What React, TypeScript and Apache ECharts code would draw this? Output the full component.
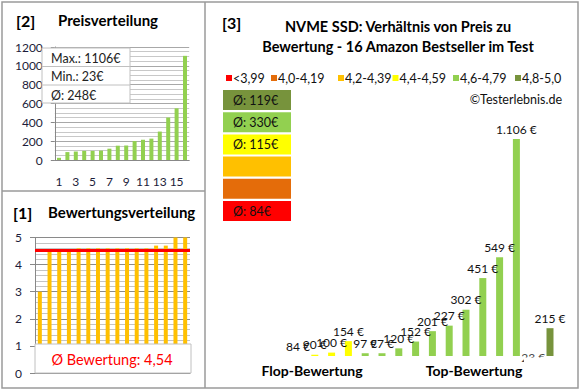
import React, { useEffect, useRef } from "react";
import * as echarts from "echarts";

// ---- data ----
const productNumbers = ["1", "2", "3", "4", "5", "6", "7", "8", "9", "10", "11", "12", "13", "14", "15", "16"];
const sortedPrices = [23, 84, 90, 97, 97, 100, 120, 152, 154, 201, 215, 227, 302, 451, 549, 1106];
const ratings = [3.0, 4.5, 4.5, 4.5, 4.6, 4.6, 4.6, 4.6, 4.6, 4.6, 4.6, 4.6, 4.7, 4.7, 5.0, 5.0];
const rankedPrices = [84, 90, 100, 154, 97, 97, 120, 152, 201, 227, 302, 451, 549, 1106, 23, 215];
const rankedGroups = [0, 3, 3, 3, 4, 4, 4, 4, 4, 4, 4, 4, 4, 4, 5, 5];
const groupLabels = ["<3,99", "4,0-4,19", "4,2-4,39", "4,4-4,59", "4,6-4,79", "4,8-5,0"];
const groupColors = ["#ff0000", "#e46c0a", "#ffc000", "#ffff00", "#92d050", "#77933c"];
const priceAxisTicks = { min: 0, max: 1200, interval: 200 };
const ratingAxisTicks = { min: 0, max: 5, interval: 1 };
const mainAxisRange = { min: 84, max: 1106 };

const FONT = "Lato, 'Open Sans', sans-serif";
const AXIS_TXT = "#1c1c3a";
const BORDER = "#9a9a9a";

const fmtEuro = (v: number) => {
  const s = v >= 1000 ? Math.floor(v / 1000) + "." + String(v % 1000).padStart(3, "0") : String(v);
  return s + " €";
};

export default function App() {
  const ref = useRef<HTMLDivElement>(null);
  useEffect(() => {
    if (!ref.current) return;
    const chart = echarts.init(ref.current, null, { renderer: "svg" });

    const maxP = Math.max(...sortedPrices);
    const minP = Math.min(...sortedPrices);
    const avgP = Math.round(sortedPrices.reduce((a, b) => a + b, 0) / sortedPrices.length);
    const avgR = ratings.reduce((a, b) => a + b, 0) / ratings.length;
    const avgRText = avgR.toFixed(2).replace(".", ",");

    const groupAvg = groupColors.map((_, g) => {
      const vals = rankedPrices.filter((_, i) => rankedGroups[i] === g);
      if (!vals.length) return "";
      return "Ø: " + Math.round(vals.reduce((a, b) => a + b, 0) / vals.length) + "€";
    });

    const txt = (x: number, y: number, text: string, o: any = {}) => ({
      type: "text",
      x,
      y,
      z: 110,
      style: {
        text,
        fill: o.fill || "#000",
        fontSize: o.fontSize || 12,
        fontWeight: o.fontWeight || "normal",
        fontFamily: FONT,
        align: o.align || "left",
        verticalAlign: "middle",
      },
    });

    const graphics: any[] = [];
    // panel borders
    graphics.push({ type: "rect", z: 100, shape: { x: 2, y: 2, width: 576, height: 386 }, style: { fill: "none", stroke: BORDER, lineWidth: 1.5 } });
    graphics.push({ type: "line", z: 100, shape: { x1: 205, y1: 2, x2: 205, y2: 388 }, style: { stroke: BORDER, lineWidth: 1.5 } });
    graphics.push({ type: "line", z: 100, shape: { x1: 2, y1: 191, x2: 205, y2: 191 }, style: { stroke: BORDER, lineWidth: 1.5 } });

    // panel 2 titles
    graphics.push(txt(16, 20, "[2]", { fontSize: 16, fontWeight: "bold" }));
    graphics.push(txt(58, 20, "Preisverteilung", { fontSize: 15, fontWeight: "bold" }));
    // stats box
    graphics.push({ type: "rect", z: 100, shape: { x: 42, y: 48, width: 88, height: 55 }, style: { fill: "#fff", stroke: "#c0c0c0", lineWidth: 1 } });
    graphics.push({ type: "line", z: 101, shape: { x1: 42, y1: 66.5, x2: 130, y2: 66.5 }, style: { stroke: "#c0c0c0", lineWidth: 1 } });
    graphics.push({ type: "line", z: 101, shape: { x1: 42, y1: 85, x2: 130, y2: 85 }, style: { stroke: "#c0c0c0", lineWidth: 1 } });
    graphics.push(txt(51, 58, "Max.: " + maxP + "€", { fontSize: 12.5, fill: "#222" }));
    graphics.push(txt(51, 76.5, "Min.: " + minP + "€", { fontSize: 12.5, fill: "#222" }));
    graphics.push(txt(51, 95, "Ø: " + avgP + "€", { fontSize: 12.5, fill: "#222" }));

    // panel 1 titles
    graphics.push(txt(13, 212, "[1]", { fontSize: 16, fontWeight: "bold" }));
    graphics.push(txt(48, 212, "Bewertungsverteilung", { fontSize: 15, fontWeight: "bold" }));
    graphics.push({ type: "rect", z: 100, shape: { x: 35, y: 344, width: 156, height: 29 }, style: { fill: "#fff", stroke: "#c0c0c0", lineWidth: 1 } });
    graphics.push(txt(112, 359.5, "Ø Bewertung: " + avgRText, { fontSize: 14.5, fill: "#ff0000", align: "center" }));

    // panel 3 titles
    graphics.push(txt(222, 22, "[3]", { fontSize: 16, fontWeight: "bold" }));
    graphics.push(txt(398, 26, "NVME SSD: Verhältnis von Preis zu", { fontSize: 14.5, fontWeight: "bold", align: "center" }));
    graphics.push(txt(398, 46, "Bewertung - 16 Amazon Bestseller im Test", { fontSize: 14.5, fontWeight: "bold", align: "center" }));

    // legend
    const legendX = [226, 271, 338, 392.5, 453, 515];
    groupLabels.forEach((lab, i) => {
      graphics.push({ type: "rect", z: 100, shape: { x: legendX[i], y: 75, width: 6, height: 6 }, style: { fill: groupColors[i] } });
      graphics.push(txt(legendX[i] + 7, 78.5, lab, { fontSize: 12.5, fill: "#111" }));
    });
    graphics.push(txt(562, 99, "©Testerlebnis.de", { fontSize: 12.5, fill: "#111", align: "right" }));

    // average boxes (top: best group)
    const boxOrder = [5, 4, 3, 2, 1, 0];
    boxOrder.forEach((g, k) => {
      const y = 90 + k * 22.2;
      graphics.push({ type: "rect", z: 100, shape: { x: 223, y, width: 68, height: 20 }, style: { fill: groupColors[g] } });
      if (groupAvg[g]) graphics.push(txt(233, y + 10.5, groupAvg[g], { fontSize: 12.5, fill: "#111" }));
    });

    // bottom labels
    graphics.push(txt(312, 370, "Flop-Bewertung", { fontSize: 14, fontWeight: "bold", align: "center" }));
    graphics.push(txt(474, 370, "Top-Bewertung", { fontSize: 14, fontWeight: "bold", align: "center" }));
    // mask just under the main plot baseline: labels of bars below the axis minimum look clipped
    graphics.push({ type: "rect", z: 99, shape: { x: 524, y: 357.5, width: 24, height: 5 }, style: { fill: "#fff" } });

    const axisLabel = { color: AXIS_TXT, fontSize: 12, fontFamily: FONT };

    chart.setOption({
      animation: false,
      backgroundColor: "#fff",
      textStyle: { fontFamily: FONT },
      grid: [
        { left: 54.8, top: 47, width: 134.4, height: 113 },
        { left: 35, top: 237.5, width: 155, height: 135.5 },
        { left: 289.6, top: 139, width: 268.8, height: 217 },
      ],
      xAxis: [
        {
          gridIndex: 0,
          type: "category",
          data: productNumbers,
          axisLine: { lineStyle: { color: "#888" } },
          axisTick: { show: false },
          axisLabel: { ...axisLabel, interval: 1, margin: 15 },
        },
        {
          gridIndex: 1,
          type: "category",
          data: productNumbers,
          axisLine: { lineStyle: { color: "#888" } },
          axisTick: { show: false },
          axisLabel: { show: false },
        },
        {
          gridIndex: 2,
          type: "category",
          data: productNumbers,
          show: false,
        },
      ],
      yAxis: [
        {
          gridIndex: 0,
          type: "value",
          ...priceAxisTicks,
          axisLine: { show: true, lineStyle: { color: "#888" } },
          axisTick: { show: true, length: 4, lineStyle: { color: "#888" } },
          axisLabel: { ...axisLabel, margin: 12, formatter: (v: number) => String(v) },
          splitLine: { lineStyle: { color: "#a8a8a8" } },
          minorTick: { show: false, splitNumber: 4 },
          minorSplitLine: { show: true, lineStyle: { color: "#c8c8c8" } },
        },
        {
          gridIndex: 1,
          type: "value",
          ...ratingAxisTicks,
          axisLine: { show: true, lineStyle: { color: "#888" } },
          axisTick: { show: true, length: 5, lineStyle: { color: "#888" } },
          axisLabel: { ...axisLabel, margin: 13 },
          splitLine: { lineStyle: { color: "#8a8a8a" } },
          minorTick: { show: false, splitNumber: 5 },
          minorSplitLine: { show: true, lineStyle: { color: "#c4c4c4" } },
        },
        {
          gridIndex: 2,
          type: "value",
          ...mainAxisRange,
          show: false,
          splitLine: { show: false },
        },
      ],
      series: [
        {
          type: "bar",
          xAxisIndex: 0,
          yAxisIndex: 0,
          data: sortedPrices,
          barWidth: 4,
          itemStyle: { color: "#92d050" },
        },
        {
          type: "bar",
          xAxisIndex: 1,
          yAxisIndex: 1,
          data: ratings,
          barWidth: 4,
          itemStyle: { color: "#ffc000" },
          markLine: {
            silent: true,
            symbol: "none",
            label: { show: false },
            lineStyle: { color: "#ff0000", width: 3, type: "solid" },
            data: [{ yAxis: avgR }],
          },
        },
        {
          type: "bar",
          xAxisIndex: 2,
          yAxisIndex: 2,
          barWidth: 7,
          clip: true,
          data: rankedPrices.map((v, i) => ({
            value: v,
            itemStyle: { color: groupColors[rankedGroups[i]] },
          })),
          label: {
            show: true,
            position: "top",
            distance: 4,
            color: "#111",
            fontSize: 12,
            fontFamily: FONT,
            formatter: (p: any) => fmtEuro(p.value),
          },
        },
        {
          // labels for bars whose value lies below the visible axis range
          type: "scatter",
          xAxisIndex: 2,
          yAxisIndex: 2,
          symbolSize: 0,
          silent: true,
          data: rankedPrices.map((v, i) => (v < mainAxisRange.min ? [i, mainAxisRange.min] : [i, "-"])),
          label: {
            show: true,
            position: "inside",
            offset: [0, 1.5],
            color: "#111",
            fontSize: 12,
            fontFamily: FONT,
            formatter: (p: any) => fmtEuro(rankedPrices[p.dataIndex]),
          },
        },
      ],
      graphic: graphics,
    });
    return () => chart.dispose();
  }, []);
  return <div ref={ref} style={{ position: "fixed", left: 0, top: 0, width: 580, height: 390, background: "#fff" }} />;
}
